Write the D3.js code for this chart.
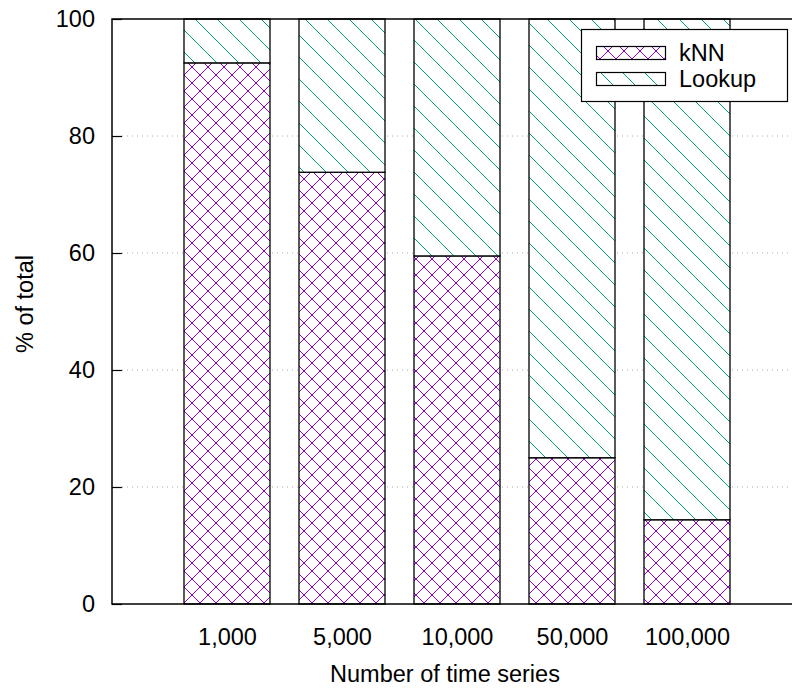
<!DOCTYPE html>
<html>
<head>
<meta charset="utf-8">
<script src="https://cdn.jsdelivr.net/npm/d3@7"></script>
<style>
  html, body { margin: 0; padding: 0; background: #fff; }
  svg { display: block; font-family: "Liberation Sans", Arial, Helvetica, sans-serif; }
</style>
</head>
<body>
<svg id="chart" width="792" height="691"></svg>
<script>
// Share of total time per stage, by number of time series
const categories = ["1,000", "5,000", "10,000", "50,000", "100,000"];
const knnValues = [92.5, 73.8, 59.5, 25.0, 14.4];
const lookupValues = [7.5, 26.2, 40.5, 75.0, 85.6];
const yTicks = [0, 20, 40, 60, 80, 100];
const seriesNames = ["kNN", "Lookup"];

const FONT = 23.5;
const svg = d3.select("#chart");
const margin = { left: 112, top: 19, right: 802, bottom: 604 };

const x = d3.scaleLinear().domain([-1, categories.length]).range([margin.left, margin.right]);
const y = d3.scaleLinear().domain([0, 100]).range([margin.bottom, margin.top]);
const barWidth = 86;

// Hatch patterns
const defs = svg.append("defs");
const cross = defs.append("pattern")
  .attr("id", "knnHatch").attr("patternUnits", "userSpaceOnUse")
  .attr("width", 16).attr("height", 16)
  .attr("x", 0).attr("y", 3);
cross.append("rect").attr("width", 16).attr("height", 16).attr("fill", "#fff");
cross.append("path").attr("d", "M0,0L16,16M16,0L0,16M-4,12L4,20M12,-4L20,4M-4,4L4,-4M12,20L20,12")
  .attr("stroke", "#9400d3").attr("stroke-width", 1).attr("fill", "none");

const diag = defs.append("pattern")
  .attr("id", "lookupHatch").attr("patternUnits", "userSpaceOnUse")
  .attr("width", 22).attr("height", 22);
diag.append("rect").attr("width", 22).attr("height", 22).attr("fill", "#fff");
diag.append("path").attr("d", "M0,0L22,22M-11,11L11,33M11,-11L33,11")
  .attr("stroke", "#009e73").attr("stroke-width", 1).attr("fill", "none");

// Grid lines
svg.append("g").selectAll("line").data(yTicks.filter(d => d > 0 && d < 100)).join("line")
  .attr("x1", margin.left + 10).attr("x2", 792)
  .attr("y1", d => y(d)).attr("y2", d => y(d))
  .attr("stroke", "#aaa").attr("stroke-width", 1).attr("stroke-dasharray", "1,4");

// Bars
const stacked = categories.map((c, i) => ({ i, knn: knnValues[i], lookup: lookupValues[i] }));
const bars = svg.append("g");
bars.selectAll("rect.knn").data(stacked).join("rect").attr("class", "knn")
  .attr("x", d => x(d.i) - barWidth / 2).attr("width", barWidth)
  .attr("y", d => y(d.knn)).attr("height", d => y(0) - y(d.knn))
  .attr("fill", "url(#knnHatch)").attr("stroke", "#000").attr("stroke-width", 1.3);
bars.selectAll("rect.lookup").data(stacked).join("rect").attr("class", "lookup")
  .attr("x", d => x(d.i) - barWidth / 2).attr("width", barWidth)
  .attr("y", d => y(d.knn + d.lookup)).attr("height", d => y(d.knn) - y(d.knn + d.lookup))
  .attr("fill", "url(#lookupHatch)").attr("stroke", "#000").attr("stroke-width", 1.3);

// Frame
svg.append("path")
  .attr("d", `M792,${margin.top}H${margin.left}V${margin.bottom}H792`)
  .attr("fill", "none").attr("stroke", "#000").attr("stroke-width", 1.5);

// Y axis
const yAxis = d3.axisLeft(y).tickValues(yTicks).tickSize(-10).tickPadding(17);
const yg = svg.append("g").attr("transform", `translate(${margin.left},0)`).call(yAxis);
yg.select(".domain").remove();
yg.selectAll(".tick line").attr("stroke", "#000").attr("stroke-width", 1.2);
yg.selectAll(".tick text").attr("font-size", FONT).attr("fill", "#000")
  .attr("font-family", "Liberation Sans, Arial, sans-serif");

// X axis labels
const xAxis = d3.axisBottom(x).tickValues(d3.range(categories.length))
  .tickFormat(i => categories[i]).tickSize(0).tickPadding(24);
const xg = svg.append("g").attr("transform", `translate(0,${margin.bottom})`).call(xAxis);
xg.select(".domain").remove();
xg.selectAll(".tick text").attr("font-size", FONT).attr("fill", "#000")
  .attr("font-family", "Liberation Sans, Arial, sans-serif");

// Axis titles
svg.append("text").attr("x", 445).attr("y", 682).attr("text-anchor", "middle")
  .attr("font-size", FONT).text("Number of time series");
svg.append("text").attr("transform", "translate(33,304) rotate(-90)")
  .attr("text-anchor", "middle").attr("font-size", FONT).text("% of total");

// Legend
const legend = svg.append("g");
legend.append("rect").attr("x", 581.5).attr("y", 29.5).attr("width", 206).attr("height", 72)
  .attr("fill", "#fff").attr("stroke", "#000").attr("stroke-width", 1.2);
const fills = ["url(#knnHatch)", "url(#lookupHatch)"];
seriesNames.forEach((name, k) => {
  legend.append("rect").attr("x", 596.5).attr("y", 46.5 + k * 26).attr("width", 69).attr("height", 13)
    .attr("fill", fills[k]).attr("stroke", "#000").attr("stroke-width", 1.2);
  legend.append("text").attr("x", 679).attr("y", 61 + k * 26)
    .attr("font-size", FONT).text(name);
});
</script>
</body>
</html>
